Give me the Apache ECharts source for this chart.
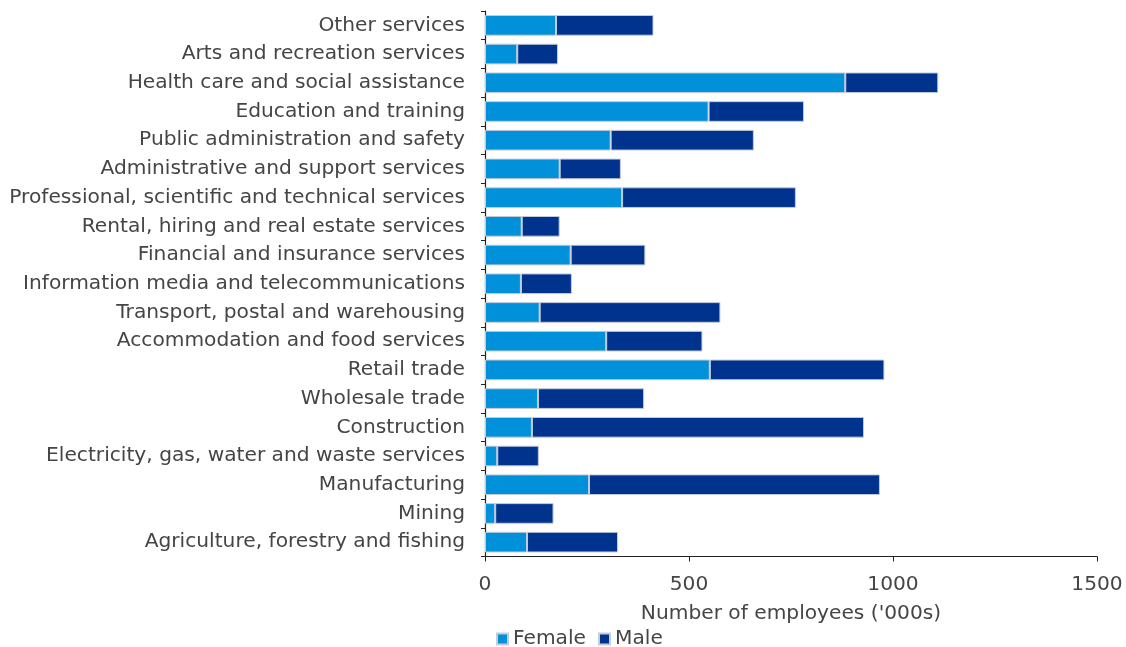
<!DOCTYPE html>
<html>
<head>
<meta charset="utf-8">
<script src="https://cdn.jsdelivr.net/npm/echarts@6/dist/echarts.min.js"></script>
<style>html,body{margin:0;padding:0;background:#fff}#c{width:1126px;height:647px}</style>
</head>
<body>
<div id="c"></div>
<script>
const categories = [
  'Other services',
  'Arts and recreation services',
  'Health care and social assistance',
  'Education and training',
  'Public administration and safety',
  'Administrative and support services',
  'Professional, scientific and technical services',
  'Rental, hiring and real estate services',
  'Financial and insurance services',
  'Information media and telecommunications',
  'Transport, postal and warehousing',
  'Accommodation and food services',
  'Retail trade',
  'Wholesale trade',
  'Construction',
  'Electricity, gas, water and waste services',
  'Manufacturing',
  'Mining',
  'Agriculture, forestry and fishing'
];
const female = [174, 79, 883, 548, 308, 183, 336, 90, 210, 88, 134, 297, 551, 130, 115, 30, 255, 25, 103];
const male   = [239, 100, 228, 234, 351, 150, 426, 93, 183, 125, 443, 236, 428, 260, 814, 102, 713, 143, 223];
const xTicks = [0, 500, 1000, 1500];

const textColor = '#454545';
const font = 'DejaVu Sans';
const fs = 20.2;
const chart = echarts.init(document.getElementById('c'));
chart.setOption({
  animation: false,
  textStyle: { fontFamily: font },
  grid: { left: 485, right: 29, top: 11, bottom: 90.5, containLabel: false },
  legend: {
    left: 491, top: 624, itemWidth: 11, itemHeight: 11, itemGap: 12,
    icon: 'rect',
    textStyle: { fontSize: fs, color: textColor, fontFamily: font, padding: [0, 0, 0, 0] },
    data: ['Female', 'Male']
  },
  xAxis: {
    type: 'value', min: xTicks[0], max: xTicks[xTicks.length - 1], interval: 500,
    name: "Number of employees ('000s)", nameLocation: 'middle', nameGap: 47,
    nameTextStyle: { fontSize: fs, color: textColor, fontFamily: font },
    axisLine: { show: true, lineStyle: { color: '#222', width: 1.2 } },
    axisTick: { show: true, length: 5, lineStyle: { color: '#222' } },
    axisLabel: { fontSize: fs, color: textColor, margin: 18, fontFamily: font,
      formatter: v => String(v) },
    splitLine: { show: false }
  },
  yAxis: {
    type: 'category', data: categories, inverse: true,
    axisLine: { show: true, lineStyle: { color: '#222', width: 1.2 } },
    axisTick: { show: true, length: 4, lineStyle: { color: '#222' } },
    axisLabel: { fontSize: fs, color: textColor, margin: 20, fontFamily: font },
    splitLine: { show: false }
  },
  series: [
    { name: 'Female', type: 'bar', stack: 'a', data: female, barWidth: '72%',
      itemStyle: { color: '#0091DA', borderColor: '#c5ccd8', borderWidth: 1 } },
    { name: 'Male', type: 'bar', stack: 'a', data: male, barWidth: '72%',
      itemStyle: { color: '#00338D', borderColor: '#c5ccd8', borderWidth: 1 } }
  ]
});
</script>
</body>
</html>
